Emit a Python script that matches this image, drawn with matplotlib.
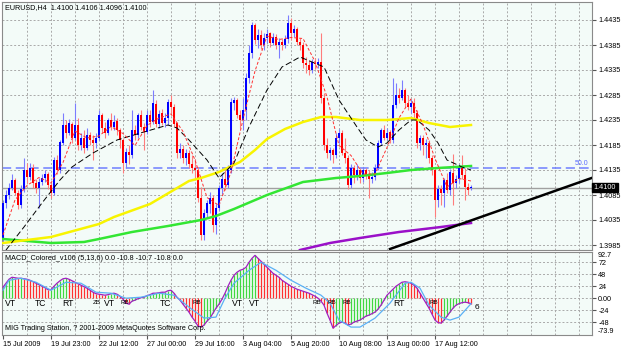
import numpy as np
import matplotlib
matplotlib.use('Agg')
import matplotlib.pyplot as plt

# velas H4 EURUSD
abertura = [1.3995, 1.4069, 1.4085, 1.4100, 1.4115, 1.4090, 1.4065, 1.4098, 1.4135, 1.4122,
            1.4140, 1.4110, 1.4100, 1.4112, 1.4120, 1.4128, 1.4105, 1.4090, 1.4155, 1.4135,
            1.4190, 1.4225, 1.4210, 1.4228, 1.4200, 1.4225, 1.4185, 1.4200, 1.4180, 1.4205,
            1.4195, 1.4190, 1.4200, 1.4245, 1.4220, 1.4210, 1.4235, 1.4222, 1.4232, 1.4215,
            1.4195, 1.4150, 1.4172, 1.4165, 1.4215, 1.4205, 1.4245, 1.4222, 1.4212, 1.4245,
            1.4232, 1.4268, 1.4228, 1.4248, 1.4230, 1.4240, 1.4272, 1.4262, 1.4228, 1.4170,
            1.4178, 1.4160, 1.4170, 1.4148, 1.4140, 1.4135, 1.4080, 1.4005, 1.4050, 1.4068,
            1.4080, 1.4025, 1.4060, 1.4100, 1.4118, 1.4105, 1.4135, 1.4270, 1.4275, 1.4245,
            1.4235, 1.4255, 1.4320, 1.4370, 1.4425, 1.4395, 1.4405, 1.4385, 1.4400, 1.4408,
            1.4390, 1.4402, 1.4385, 1.4392, 1.4385, 1.4398, 1.4430, 1.4410, 1.4418, 1.4392,
            1.4385, 1.4350, 1.4345, 1.4335, 1.4350, 1.4348, 1.4352, 1.4280, 1.4185, 1.4170,
            1.4175, 1.4165, 1.4200, 1.4210, 1.4170, 1.4160, 1.4105, 1.4140, 1.4125, 1.4135,
            1.4120, 1.4135, 1.4125, 1.4118, 1.4122, 1.4140, 1.4190, 1.4215, 1.4200, 1.4210,
            1.4195, 1.4265, 1.4285, 1.4280, 1.4295, 1.4270, 1.4262, 1.4270, 1.4250, 1.4190,
            1.4200, 1.4185, 1.4190, 1.4160, 1.4135, 1.4075, 1.4098, 1.4090, 1.4115, 1.4095,
            1.4130, 1.4110, 1.4118, 1.4140, 1.4125, 1.4102, 1.4100]
maxima = [1.4075, 1.4095, 1.4110, 1.4128, 1.4120, 1.4095, 1.4105, 1.4160, 1.4150, 1.4150,
          1.4148, 1.4118, 1.4120, 1.4128, 1.4135, 1.4132, 1.4110, 1.4162, 1.4165, 1.4195,
          1.4250, 1.4235, 1.4238, 1.4232, 1.4270, 1.4240, 1.4210, 1.4215, 1.4220, 1.4212,
          1.4205, 1.4210, 1.4255, 1.4250, 1.4232, 1.4240, 1.4250, 1.4245, 1.4240, 1.4220,
          1.4200, 1.4180, 1.4185, 1.4255, 1.4225, 1.4250, 1.4255, 1.4230, 1.4255, 1.4255,
          1.4295, 1.4275, 1.4255, 1.4258, 1.4250, 1.4278, 1.4285, 1.4268, 1.4232, 1.4190,
          1.4185, 1.4178, 1.4175, 1.4165, 1.4158, 1.4142, 1.4102, 1.4058, 1.4075, 1.4092,
          1.4085, 1.4068, 1.4105, 1.4130, 1.4135, 1.4145, 1.4280, 1.4282, 1.4280, 1.4255,
          1.4280, 1.4330, 1.4385, 1.4432, 1.4430, 1.4418, 1.4415, 1.4410, 1.4418, 1.4412,
          1.4410, 1.4408, 1.4400, 1.4398, 1.4405, 1.4445, 1.4440, 1.4425, 1.4422, 1.4400,
          1.4392, 1.4362, 1.4355, 1.4358, 1.4360, 1.4360, 1.4410, 1.4290, 1.4200, 1.4182,
          1.4180, 1.4210, 1.4218, 1.4215, 1.4200, 1.4165, 1.4148, 1.4145, 1.4148, 1.4140,
          1.4142, 1.4140, 1.4135, 1.4132, 1.4148, 1.4195, 1.4220, 1.4225, 1.4220, 1.4215,
          1.4320, 1.4310, 1.4300, 1.4315, 1.4300, 1.4285, 1.4278, 1.4280, 1.4255, 1.4205,
          1.4205, 1.4198, 1.4195, 1.4165, 1.4140, 1.4105, 1.4105, 1.4120, 1.4130, 1.4138,
          1.4168, 1.4125, 1.4148, 1.4165, 1.4140, 1.4110, 1.4106]
minima = [1.3990, 1.4060, 1.4078, 1.4095, 1.4085, 1.4058, 1.4060, 1.4092, 1.4110, 1.4115,
          1.4100, 1.4090, 1.4060, 1.4105, 1.4112, 1.4098, 1.4080, 1.4085, 1.4128, 1.4130,
          1.4185, 1.4200, 1.4205, 1.4190, 1.4195, 1.4175, 1.4175, 1.4170, 1.4175, 1.4185,
          1.4155, 1.4180, 1.4195, 1.4210, 1.4200, 1.4205, 1.4215, 1.4215, 1.4205, 1.4180,
          1.4130, 1.4140, 1.4148, 1.4160, 1.4195, 1.4200, 1.4215, 1.4175, 1.4208, 1.4222,
          1.4228, 1.4222, 1.4220, 1.4225, 1.4222, 1.4225, 1.4250, 1.4222, 1.4160, 1.4160,
          1.4150, 1.4145, 1.4140, 1.4130, 1.4120, 1.4072, 1.3995, 1.3995, 1.4040, 1.4050,
          1.4012, 1.4008, 1.4055, 1.4088, 1.4095, 1.4100, 1.4130, 1.4255, 1.4240, 1.4220,
          1.4215, 1.4235, 1.4310, 1.4360, 1.4388, 1.4380, 1.4378, 1.4375, 1.4390, 1.4382,
          1.4385, 1.4378, 1.4360, 1.4375, 1.4380, 1.4390, 1.4395, 1.4402, 1.4385, 1.4375,
          1.4340, 1.4330, 1.4325, 1.4330, 1.4338, 1.4340, 1.4270, 1.4175, 1.4160, 1.4155,
          1.4150, 1.4160, 1.4190, 1.4165, 1.4150, 1.4098, 1.4100, 1.4110, 1.4115, 1.4110,
          1.4112, 1.4118, 1.4080, 1.4110, 1.4115, 1.4135, 1.4185, 1.4195, 1.4195, 1.4190,
          1.4190, 1.4260, 1.4270, 1.4275, 1.4262, 1.4255, 1.4250, 1.4240, 1.4180, 1.4175,
          1.4165, 1.4160, 1.4150, 1.4125, 1.4042, 1.4062, 1.4065, 1.4062, 1.4090, 1.4085,
          1.4065, 1.4100, 1.4110, 1.4118, 1.4075, 1.4085, 1.4096]
fechamento = [1.4069, 1.4085, 1.4100, 1.4115, 1.4090, 1.4065, 1.4098, 1.4135, 1.4122, 1.4140,
              1.4110, 1.4100, 1.4112, 1.4120, 1.4128, 1.4105, 1.4090, 1.4155, 1.4135, 1.4190,
              1.4225, 1.4210, 1.4228, 1.4200, 1.4225, 1.4185, 1.4200, 1.4180, 1.4205, 1.4195,
              1.4190, 1.4200, 1.4245, 1.4220, 1.4210, 1.4235, 1.4222, 1.4232, 1.4215, 1.4195,
              1.4150, 1.4172, 1.4165, 1.4215, 1.4205, 1.4245, 1.4222, 1.4212, 1.4245, 1.4232,
              1.4268, 1.4228, 1.4248, 1.4230, 1.4240, 1.4272, 1.4262, 1.4228, 1.4170, 1.4178,
              1.4160, 1.4170, 1.4148, 1.4140, 1.4135, 1.4080, 1.4005, 1.4050, 1.4068, 1.4080,
              1.4025, 1.4060, 1.4100, 1.4118, 1.4105, 1.4135, 1.4270, 1.4275, 1.4245, 1.4235,
              1.4255, 1.4320, 1.4370, 1.4425, 1.4395, 1.4405, 1.4385, 1.4400, 1.4408, 1.4390,
              1.4402, 1.4385, 1.4392, 1.4385, 1.4398, 1.4430, 1.4410, 1.4418, 1.4392, 1.4385,
              1.4350, 1.4345, 1.4335, 1.4350, 1.4348, 1.4352, 1.4280, 1.4185, 1.4170, 1.4175,
              1.4165, 1.4200, 1.4210, 1.4170, 1.4160, 1.4105, 1.4140, 1.4125, 1.4135, 1.4120,
              1.4135, 1.4125, 1.4118, 1.4122, 1.4140, 1.4190, 1.4215, 1.4200, 1.4210, 1.4195,
              1.4265, 1.4285, 1.4280, 1.4295, 1.4270, 1.4262, 1.4270, 1.4250, 1.4190, 1.4200,
              1.4185, 1.4190, 1.4160, 1.4135, 1.4075, 1.4098, 1.4090, 1.4115, 1.4095, 1.4130,
              1.4110, 1.4118, 1.4140, 1.4125, 1.4102, 1.4095, 1.4100]

# medias moveis (posicao da barra, preco)
ma_rapida_idx = [0, 4, 8, 12, 16, 20, 24, 28, 32, 36, 40, 44, 48, 52, 56, 60, 64, 68, 72, 76,
                 80, 84, 88, 92, 96, 100, 104, 108, 112, 116, 120, 124, 128, 132, 136, 140, 144, 148, 152, 156]
ma_rapida = [1.4005, 1.4075, 1.4104, 1.4120, 1.4109, 1.4150, 1.4213, 1.4199, 1.4203, 1.4222,
             1.4208, 1.4184, 1.4224, 1.4239, 1.4247, 1.4212, 1.4155, 1.4080, 1.4064, 1.4131,
             1.4236, 1.4333, 1.4403, 1.4396, 1.4400, 1.4398, 1.4352, 1.4281, 1.4184, 1.4164,
             1.4127, 1.4127, 1.4180, 1.4239, 1.4277, 1.4226, 1.4158, 1.4101, 1.4118, 1.4113]
ma_lenta_idx = [1, 7, 13, 19, 23, 30, 38, 47, 55, 58, 62, 68, 72, 77, 82, 88, 93, 99, 107, 112,
                118, 121, 125, 128, 132, 136, 138, 142, 145, 148, 153, 156]
ma_lenta = [1.3975, 1.4021, 1.4069, 1.4115, 1.4141, 1.4169, 1.4195, 1.4211, 1.4225, 1.4219,
            1.4195, 1.4155, 1.4119, 1.4149, 1.4221, 1.4295, 1.4341, 1.4361, 1.4341, 1.4275,
            1.4221, 1.4195, 1.4181, 1.4189, 1.4215, 1.4235, 1.4235, 1.4215, 1.4189, 1.4155,
            1.4141, 1.4135]
ma_amarela_idx = [0, 16, 32, 37, 49, 62, 66, 72, 79, 84, 88, 94, 100, 106, 111, 119, 128, 136, 142, 149, 156]
ma_amarela = [1.3989, 1.4001, 1.4027, 1.4041, 1.4067, 1.4113, 1.4119, 1.4131, 1.4151, 1.4175,
              1.4197, 1.4217, 1.4231, 1.4241, 1.4241, 1.4235, 1.4235, 1.4239, 1.4229, 1.4221, 1.4225]
ma_verde_idx = [0, 16, 27, 32, 43, 55, 66, 71, 77, 88, 100, 111, 119, 128, 136, 145, 156]
ma_verde = [1.3997, 1.3989, 1.3991, 1.3997, 1.4011, 1.4023, 1.4035, 1.4043, 1.4057, 1.4085,
            1.4111, 1.4119, 1.4123, 1.4129, 1.4135, 1.4139, 1.4143]
ma_roxa_idx = [99, 109, 119, 132, 146, 156]
ma_roxa = [1.3975, 1.3989, 1.3999, 1.4011, 1.4021, 1.4029]

# linha de tendencia e nivel fibo
tendencia_idx = [129, 200]
tendencia = [1.3977, 1.4127]
nivel_fibo = 1.4139
preco_atual = 1.4100

# MACD_Colored (5,13,6)
macd = [22, 30, 38, 42, 41, 40, 40, 39, 38, 36,
        33, 30, 27, 24, 21, 17, 17, 24, 30, 35,
        39, 40, 38, 35, 32, 29, 26, 23, 20, 16,
        12, 9, 8, 7, 6, 7, 9, 10, 8, 4,
        -2, -10, -12, -6, -4, -1, 1, 2, 5, 7,
        10, 10, 11, 12, 12, 15, 16, 10, 2, -4,
        -12, -20, -28, -38, -46, -56, -58, -54, -46, -40,
        -30, -20, -12, -2, 10, 24, 36, 46, 52, 56,
        58, 62, 72, 80, 86, 80, 74, 68, 62, 56,
        50, 46, 42, 36, 32, 28, 24, 21, 18, 16,
        14, 12, 10, 7, 4, 0, -6, -14, -30, -44,
        -60, -55, -50, -48, -50, -54, -52, -48, -46, -44,
        -40, -36, -34, -31, -28, -22, -14, -4, 6, 12,
        18, 24, 28, 32, 33, 32, 30, 26, 20, 10,
        0, -10, -20, -32, -44, -49, -50, -44, -36, -28,
        -20, -14, -11, -9, -8, -9, -11]
sinal_idx = [0, 2, 6, 11, 16, 21, 26, 31, 36, 41, 46, 52, 57, 62, 67, 71, 74, 77, 82, 86,
             91, 96, 101, 106, 109, 112, 116, 119, 124, 129, 134, 136, 139, 142, 146, 149, 152, 156]
sinal = [16, 36, 40, 32, 16, 32, 30, 12, 10, 0, 2, 10, 6, -18, -40, -38, 0, 30, 56, 72,
         56, 36, 20, 6, -10, -44, -58, -58, -40, -10, 30, 32, 20, -14, -38, -44, -38, -11]

rotulos = ['VT', 'TC', 'RT', 'ZB', 'VT', 'RB', 'TC', 'RB', 'VT', 'VT', 'RB', 'RB', 'RB', 'RT', 'RB']
rotulos_idx = [0.7, 10.7, 19.7, 30, 33.7, 39.3, 52.3, 63.3, 76.3, 82, 103, 108, 113, 130, 142.3]

datas_idx = [0, 16, 32, 48, 64, 80, 96, 112, 128, 144]
datas = ['15 Jul 2009', '19 Jul 23:00', '22 Jul 12:00', '27 Jul 00:00', '29 Jul 16:00',
         '3 Aug 04:00', '5 Aug 20:00', '10 Aug 08:00', '13 Aug 00:00', '17 Aug 12:00']
precos_eixo = [1.3985, 1.4035, 1.4085, 1.4135, 1.4185, 1.4235, 1.4285, 1.4335, 1.4385, 1.4435]
macd_eixo = [72, 48, 24, 0, -24, -48]

plt.rcParams['font.family'] = ['Liberation Sans', 'DejaVu Sans']
fundo = '#f3fbf8'
grade = '#a9a9a9'
fs = 5.2

W, H = 625, 349
fig = plt.figure(figsize=(W / 100, H / 100), dpi=100)
fig.patch.set_facecolor('white')
ax = fig.add_axes([2 / W, 1 - 250 / H, 590 / W, 248 / H])
ax2 = fig.add_axes([2 / W, 1 - 335 / H, 590 / W, 83 / H])

for a in (ax, ax2):
    a.set_facecolor(fundo)
    a.set_xlim(-0.33, 196.33)
    for s in a.spines.values():
        s.set_color('#8a8a8a')
        s.set_linewidth(0.8)
    for k in range(8, 197, 8):
        a.axvline(k, color=grade, lw=0.7, ls=(0, (2, 2)), zorder=0)

# painel de precos
ax.set_ylim(1.3975, 1.4471)
for p in precos_eixo:
    ax.axhline(p, color=grade, lw=0.7, ls=(0, (2, 2)), zorder=0)
ax.axhline(preco_atual, color='#a0a0a0', lw=1, zorder=1)
ax.axhline(nivel_fibo, color='#6f7fff', lw=1.1, ls=(0, (6, 3)), zorder=1)
ax.text(193, nivel_fibo + 0.0002, '50.0', color='#5a6cff', fontsize=5, ha='center', va='bottom')

idx = np.arange(len(fechamento))
o = np.array(abertura)
c = np.array(fechamento)
alta = c >= o
cores = np.where(alta, '#0000ff', '#ff0000')
cores_pavio = np.where(alta, '#7c7cff', '#ff7c7c')
ax.vlines(idx, minima, maxima, colors=cores_pavio, lw=0.8, zorder=2)
ax.bar(idx, np.maximum(np.abs(c - o), 0.00015), bottom=np.minimum(o, c),
       width=0.62, color=cores, lw=0, zorder=3)

ax.plot(ma_roxa_idx, ma_roxa, color='#9a10c8', lw=1.8, zorder=4)
ax.plot(ma_verde_idx, ma_verde, color='#33e633', lw=1.8, zorder=4)
ax.plot(ma_amarela_idx, ma_amarela, color='#f8f400', lw=1.8, zorder=4)
ax.plot(ma_lenta_idx, ma_lenta, color='black', lw=0.7, ls=(0, (6, 3)), zorder=5)
ax.plot(ma_rapida_idx, ma_rapida, color='#ff3030', lw=0.7, ls=(0, (3, 2)), zorder=5)
ax.plot(tendencia_idx, tendencia, color='black', lw=1.8, zorder=6)

ax.yaxis.tick_right()
ax.set_yticks(precos_eixo)
ax.set_yticklabels(['%.4f' % p for p in precos_eixo])
ax.tick_params(axis='y', labelsize=fs, length=3, pad=1.5, color='#555555')
ax.tick_params(axis='x', length=0, labelbottom=False)
ax.text(1.003, preco_atual, '%.4f' % preco_atual, transform=ax.get_yaxis_transform(),
        color='white', fontsize=fs, va='center', ha='left',
        bbox=dict(boxstyle='square,pad=0.2', fc='black', ec='black'))

# painel MACD
ax2.set_ylim(-73.9, 92.7)
for v in macd_eixo:
    ax2.axhline(v, color=grade, lw=0.7, ls=(0, (2, 2)), zorder=0)
cores_hist = ['#40d840' if i == 0 or macd[i] >= macd[i - 1] else '#ff3030' for i in idx]
ax2.vlines(idx, 0, macd, colors=cores_hist, lw=0.9, zorder=2)
ax2.plot(idx, macd, color='#a020c0', lw=0.9, zorder=3)
ax2.plot(sinal_idx, sinal, color='#5ab0f5', lw=0.9, zorder=3)
for txt, xi in zip(rotulos, rotulos_idx):
    pequeno = txt in ('RB', 'ZB')
    ax2.text(xi, -9 if pequeno else -10, txt, fontsize=4.5 if pequeno else 6.2,
             ha='left', va='center', color='black', zorder=4)
ax2.text(157.3, -18, '6', fontsize=6, ha='left', va='center')

ax2.yaxis.tick_right()
ax2.set_yticks(macd_eixo)
ax2.set_yticklabels(['72', '48', '24', '0.00', '-24', '-48'])
ax2.tick_params(axis='y', labelsize=fs, length=3, pad=1.5, color='#555555')
ax2.text(1.009, 92.7, '92.7', transform=ax2.get_yaxis_transform(), fontsize=fs, va='top', ha='left')
ax2.text(1.009, -73.9, '-73.9', transform=ax2.get_yaxis_transform(), fontsize=fs, va='bottom', ha='left')
ax2.set_xticks(datas_idx)
ax2.set_xticklabels(datas)
for lab in ax2.get_xticklabels():
    lab.set_ha('left')
ax2.tick_params(axis='x', labelsize=fs, length=3, pad=1.5, color='#555555')

fig.text(5 / W, 1 - 8 / H, 'EURUSD,H4  1.4100 1.4106 1.4096 1.4100', fontsize=fs, va='center')
fig.text(5 / W, 1 - 258 / H, 'MACD_Colored_v106 (5,13,6) 0.0 -10.8 -10.7 -10.8 0.0', fontsize=fs, va='center')
fig.text(5 / W, 1 - 329 / H, 'MIG Trading Station, ? 2001-2009 MetaQuotes Software Corp.', fontsize=fs, va='center')

plt.savefig('out.png', dpi=100, facecolor='white')
